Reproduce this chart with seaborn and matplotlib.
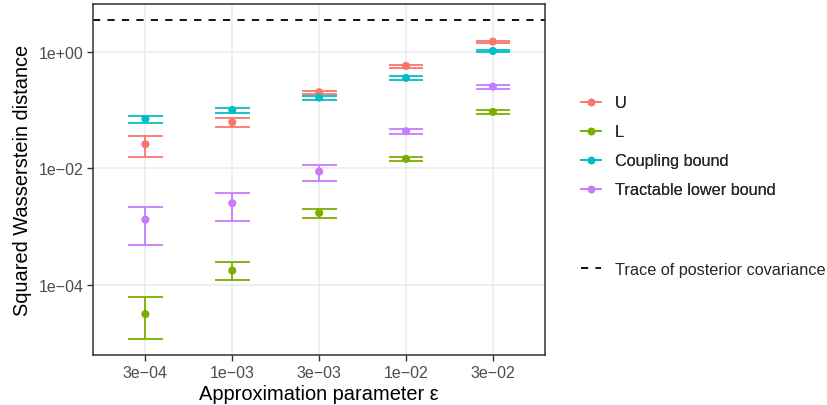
import numpy as np
import pandas as pd
import matplotlib
matplotlib.use("Agg")
import matplotlib.pyplot as plt
from matplotlib.lines import Line2D
from matplotlib.ticker import FixedLocator, FixedFormatter, NullLocator
import seaborn as sns

# ---------------- data ----------------
eps_labels = ["3e\u221204", "1e\u221203", "3e\u221203", "1e\u221202", "3e\u221202"]
series = ["U", "L", "Coupling bound", "Tractable lower bound"]

U_mid = [0.0258, 0.0615, 0.201, 0.569, 1.486]
U_lo = [0.0158, 0.0505, 0.191, 0.525, 1.426]
U_hi = [0.0358, 0.0719, 0.209, 0.600, 1.524]

L_mid = [3.13e-5, 1.75e-4, 1.71e-3, 0.01445, 0.0925]
L_lo = [1.17e-5, 1.21e-4, 1.42e-3, 0.0132, 0.0843]
L_hi = [6.04e-5, 2.44e-4, 2.00e-3, 0.0158, 0.100]

C_mid = [0.0701, 0.100, 0.1626, 0.354, 1.028]
C_lo = [0.0598, 0.0877, 0.148, 0.331, 0.989]
C_hi = [0.0798, 0.110, 0.176, 0.378, 1.072]

T_mid = [1.31e-3, 2.51e-3, 8.75e-3, 0.0431, 0.251]
T_lo = [4.78e-4, 1.25e-3, 6.12e-3, 0.0387, 0.229]
T_hi = [2.14e-3, 3.77e-3, 0.01153, 0.0479, 0.272]

trace_cov = 3.54

y_ticks = [1e-4, 1e-2, 1e0]
y_tick_labels = ["1e\u221204", "1e\u221202", "1e+00"]

colors = ["#F8766D", "#7CAE00", "#00BFC4", "#C77CFF"]

# ---------------- table ----------------
mids = [U_mid, L_mid, C_mid, T_mid]
los = [U_lo, L_lo, C_lo, T_lo]
his = [U_hi, L_hi, C_hi, T_hi]
rows = []
for s, m, lo, hi in zip(series, mids, los, his):
    for i, e in enumerate(eps_labels):
        rows.append(dict(eps=e, xi=i, series=s, mid=m[i], lo=lo[i], hi=hi[i]))
df = pd.DataFrame(rows)

# ---------------- figure ----------------
sns.set_theme(style="white")
plt.rcParams["font.family"] = ["Liberation Sans", "DejaVu Sans"]

fig = plt.figure(figsize=(8.27, 4.06), dpi=100)
ax = fig.add_axes([93.3 / 827, 1 - 356 / 406, (545 - 93.3) / 827, (356 - 4.7) / 406])

# grid
for i in range(len(eps_labels)):
    ax.axvline(i, color="#EBEBEB", lw=1.1, zorder=0)
for t in y_ticks:
    ax.axhline(t, color="#EBEBEB", lw=1.1, zorder=0)

# error bars
half = 0.2
for s, c in zip(series, colors):
    d = df[df.series == s]
    ax.vlines(d.xi, d.lo, d.hi, color=c, lw=1.3, zorder=2)
    ax.hlines(d.lo, d.xi - half, d.xi + half, color=c, lw=1.3, zorder=2)
    ax.hlines(d.hi, d.xi - half, d.xi + half, color=c, lw=1.3, zorder=2)

sns.scatterplot(data=df, x="xi", y="mid", hue="series", hue_order=series,
                palette=colors, s=34, edgecolor="none", legend=False, ax=ax, zorder=3)

ax.axhline(trace_cov, color="black", ls=(0, (4, 4)), lw=1.3, zorder=2)

ax.set_yscale("log")
lo_all = np.log10(min(min(x) for x in los))
hi_all = np.log10(max(trace_cov, max(max(x) for x in his)))
rng = hi_all - lo_all
ax.set_ylim(10 ** (lo_all - 0.05 * rng), 10 ** (hi_all + 0.05 * rng))
ax.set_xlim(-0.6, len(eps_labels) - 1 + 0.6)

ax.yaxis.set_major_locator(FixedLocator(y_ticks))
ax.yaxis.set_major_formatter(FixedFormatter(y_tick_labels))
ax.yaxis.set_minor_locator(NullLocator())
ax.set_xticks(range(len(eps_labels)))
ax.set_xticklabels(eps_labels)

ax.tick_params(axis="both", which="major", length=4, width=1.0, color="#333333",
               labelsize=11.5, labelcolor="#4D4D4D", pad=3, left=True, bottom=True)
for sp in ax.spines.values():
    sp.set_color("#333333")
    sp.set_linewidth(1.1)

ax.set_xlabel("Approximation parameter \u03b5", fontsize=14.4, color="black", labelpad=3)
ax.set_ylabel("Squared Wasserstein distance", fontsize=14.4, color="black", labelpad=5)

# legends
handles1 = [Line2D([0], [0], color=c, lw=1.3, marker="o", markersize=5.5,
                   markeredgecolor="none") for c in colors]
leg1 = fig.legend(handles1, series, loc="upper left", bbox_to_anchor=(574 / 827, 1 - 90 / 406),
                  frameon=False, fontsize=11.7, handlelength=1.25, handletextpad=0.86,
                  labelspacing=0.86, borderaxespad=0)
handles2 = [Line2D([0], [0], color="black", lw=1.3, ls=(0, (4, 4)))]
leg2 = fig.legend(handles2, ["Trace of posterior covariance"], loc="upper left",
                  bbox_to_anchor=(574 / 827, 1 - 256 / 406), frameon=False, fontsize=11.7,
                  handlelength=1.25, handletextpad=0.86, borderaxespad=0)
fig.add_artist(leg1)

fig.savefig("out.png", dpi=100)
